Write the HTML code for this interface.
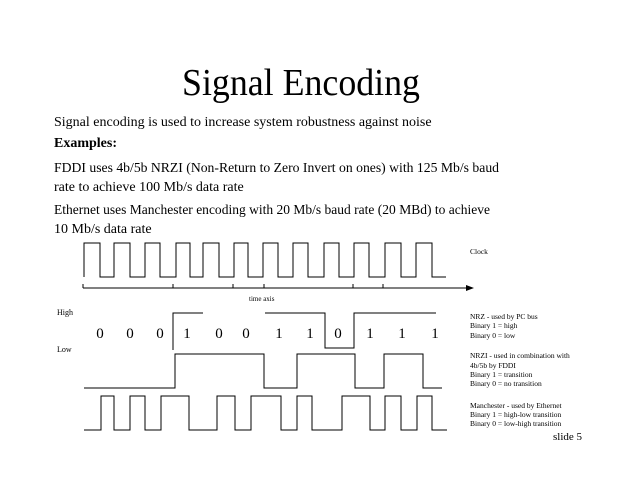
<!DOCTYPE html>
<html><head><style>html,body{margin:0;padding:0;background:#fff}svg{display:block}</style></head>
<body>
<svg width="640" height="480" xmlns="http://www.w3.org/2000/svg" font-family="Liberation Serif, serif" fill="#000">
<text x="182" y="95" font-size="38" textLength="238" lengthAdjust="spacingAndGlyphs">Signal Encoding</text>
<g font-size="14">
<text x="54" y="126">Signal encoding is used to increase system robustness against noise</text>
<text x="54" y="147" font-weight="bold">Examples:</text>
<text x="54" y="172" textLength="445" lengthAdjust="spacingAndGlyphs">FDDI uses 4b/5b NRZI (Non-Return to Zero Invert on ones) with 125 Mb/s baud</text>
<text x="54" y="191">rate to achieve 100 Mb/s data rate</text>
<text x="54" y="214" textLength="436" lengthAdjust="spacingAndGlyphs">Ethernet uses Manchester encoding with 20 Mb/s baud rate (20 MBd) to achieve</text>
<text x="54" y="233">10 Mb/s data rate</text>
</g>
<g fill="none" stroke="#000" stroke-width="1">
<polyline points="84,277 84,243 100,243 100,277 114,277 114,243 130,243 130,277 145,277 145,243 160,243 160,277 176,277 176,243 190,243 190,277 203,277 203,243 219,243 219,277 234,277 234,243 248,243 248,277 263,277 263,243 278,243 278,277 293,277 293,243 308,243 308,277 324,277 324,243 339,243 339,277 354,277 354,243 369,243 369,277 385,277 385,243 401,243 401,277 416,277 416,243 432,243 432,277 446,277"/>
<line x1="83" y1="288" x2="466" y2="288"/>
<path d="M83,284V288M173,284V288M233,284V288M264,284V288M353,284V288M383,284V288"/>
<polyline points="173,350 173,313 203,313"/>
<polyline points="265,313 325,313 325,348 354,348 354,313 436,313"/>
<polyline points="84,388 175,388 175,354 264,354 264,388 297,388 297,354 355,354 355,388 384,388 384,354 423,354 423,388 442,388"/>
<polyline points="84,430 101,430 101,396 114,396 114,430 130,430 130,396 145,396 145,430 161,430 161,396 189,396 189,430 217,430 217,396 235,396 235,430 251,430 251,396 281,396 281,430 297,430 297,396 312,396 312,430 342,430 342,396 370,396 370,430 385,430 385,396 401,396 401,430 417,430 417,396 432,396 432,430 447,430"/>
</g>
<polygon points="466,285 474,288 466,291"/>
<text x="249" y="301" font-size="7">time axis</text>
<text x="57" y="315" font-size="8">High</text>
<text x="57" y="352" font-size="8">Low</text>
<g font-size="15" text-anchor="middle">
<text x="100" y="338">0</text><text x="130" y="338">0</text><text x="160" y="338">0</text><text x="187" y="338">1</text><text x="219" y="338">0</text><text x="246" y="338">0</text><text x="279" y="338">1</text><text x="310" y="338">1</text><text x="338" y="338">0</text><text x="370" y="338">1</text><text x="402" y="338">1</text><text x="435" y="338">1</text>
</g>
<g font-size="7.5">
<text x="470" y="254">Clock</text>
<text x="470" y="319">NRZ - used by PC bus</text>
<text x="470" y="328">Binary 1 = high</text>
<text x="470" y="338">Binary 0 = low</text>
<text x="470" y="358">NRZI - used in combination with</text>
<text x="470" y="368">4b/5b by FDDI</text>
<text x="470" y="377">Binary 1 = transition</text>
<text x="470" y="386">Binary 0 = no transition</text>
<text x="470" y="408">Manchester - used by Ethernet</text>
<text x="470" y="417">Binary 1 = high-low transition</text>
<text x="470" y="426">Binary 0 = low-high transition</text>
</g>
<text x="553" y="440" font-size="11">slide 5</text>
</svg>
</body></html>
